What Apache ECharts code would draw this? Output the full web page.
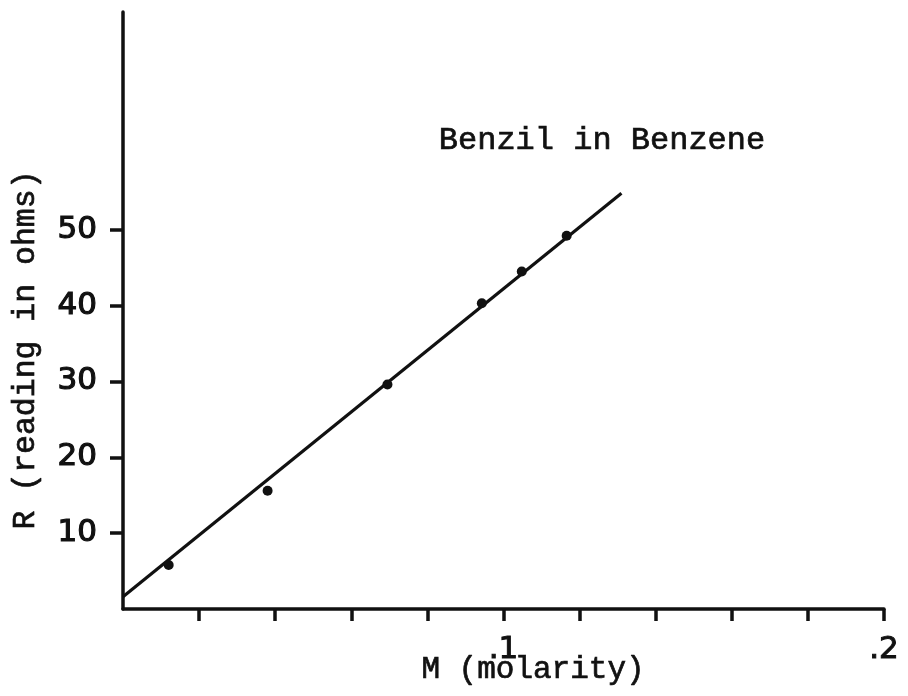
<!DOCTYPE html>
<html>
<head>
<meta charset="utf-8">
<script src="https://cdn.jsdelivr.net/npm/echarts@6/dist/echarts.min.js"></script>
<style>
  html, body { margin: 0; padding: 0; background: #fff; }
  #chart { width: 908px; height: 696px; }
</style>
</head>
<body>
<div id="chart"></div>
<script>
// Measured resistance readings of benzil solutions in benzene
const molarity = [0.012, 0.038, 0.0695, 0.0943, 0.1048, 0.1166];
const resistance = [5.8, 15.6, 29.6, 40.3, 44.5, 49.2];

// Straight-line fit drawn through the readings (start and end of the line)
const fitMolarity = [0, 0.131];
const fitResistance = [1.6, 54.8];

// Axis ticks and labels
const xTicks = [0.02, 0.04, 0.06, 0.08, 0.1, 0.12, 0.14, 0.16, 0.18, 0.2];
const xLabels = [0.1, 0.2];
const yTicks = [10, 20, 30, 40, 50];

const chart = echarts.init(document.getElementById('chart'), null, { renderer: 'canvas' });

const ink = '#111';
const numFont = '"DejaVu Sans", sans-serif';
const monoFont = '"Liberation Mono", "DejaVu Sans Mono", monospace';

// typewritten captions get a thin outline so the strokes read heavier
const typed = (text, size, extra) => Object.assign({
  text: text,
  fill: ink,
  stroke: ink,
  lineWidth: 0.7,
  font: size + 'px ' + monoFont,
  align: 'center',
  verticalAlign: 'middle'
}, extra || {});

chart.setOption({
  backgroundColor: '#fff',
  animation: false,
  grid: { left: 123, right: 24, top: 12, bottom: 87, containLabel: false },
  xAxis: {
    type: 'value',
    min: 0,
    max: 0.2,
    interval: 0.02,
    splitLine: { show: false },
    axisLine: { show: true, onZero: false, lineStyle: { color: ink, width: 3.5 } },
    axisTick: {
      show: true, inside: false, length: 12,
      customValues: xTicks,
      lineStyle: { color: ink, width: 3.5 }
    },
    axisLabel: {
      show: true,
      customValues: xLabels,
      margin: 25,
      color: ink,
      fontFamily: numFont,
      fontSize: 31,
      textBorderColor: ink,
      textBorderWidth: 1,
      formatter: v => '.' + Math.round(v * 10)
    }
  },
  yAxis: {
    type: 'value',
    min: 0,
    max: 78.7,
    interval: 10,
    splitLine: { show: false },
    axisLine: { show: true, onZero: false, lineStyle: { color: ink, width: 3.5 } },
    axisTick: {
      show: true, inside: false, length: 13,
      customValues: yTicks,
      lineStyle: { color: ink, width: 3.5 }
    },
    axisLabel: {
      show: true,
      customValues: yTicks,
      margin: 26,
      color: ink,
      fontFamily: numFont,
      fontSize: 31,
      textBorderColor: ink,
      textBorderWidth: 1.2
    }
  },
  series: [
    {
      type: 'line',
      data: fitMolarity.map((m, i) => [m, fitResistance[i]]),
      symbol: 'none',
      lineStyle: { color: ink, width: 3.2 },
      z: 2
    },
    {
      type: 'scatter',
      data: molarity.map((m, i) => [m, resistance[i]]),
      symbol: 'circle',
      symbolSize: 10,
      itemStyle: { color: ink, opacity: 1 },
      z: 3
    }
  ],
  graphic: [
    {
      type: 'text',
      x: 602,
      y: 141,
      style: typed('Benzil in Benzene', 32)
    },
    {
      type: 'text',
      x: 533,
      y: 670,
      style: typed('M (molarity)', 31)
    },
    {
      type: 'text',
      x: 26,
      y: 350,
      rotation: Math.PI / 2,
      style: typed('R (reading in ohms)', 31.5)
    }
  ]
});
</script>
</body>
</html>
